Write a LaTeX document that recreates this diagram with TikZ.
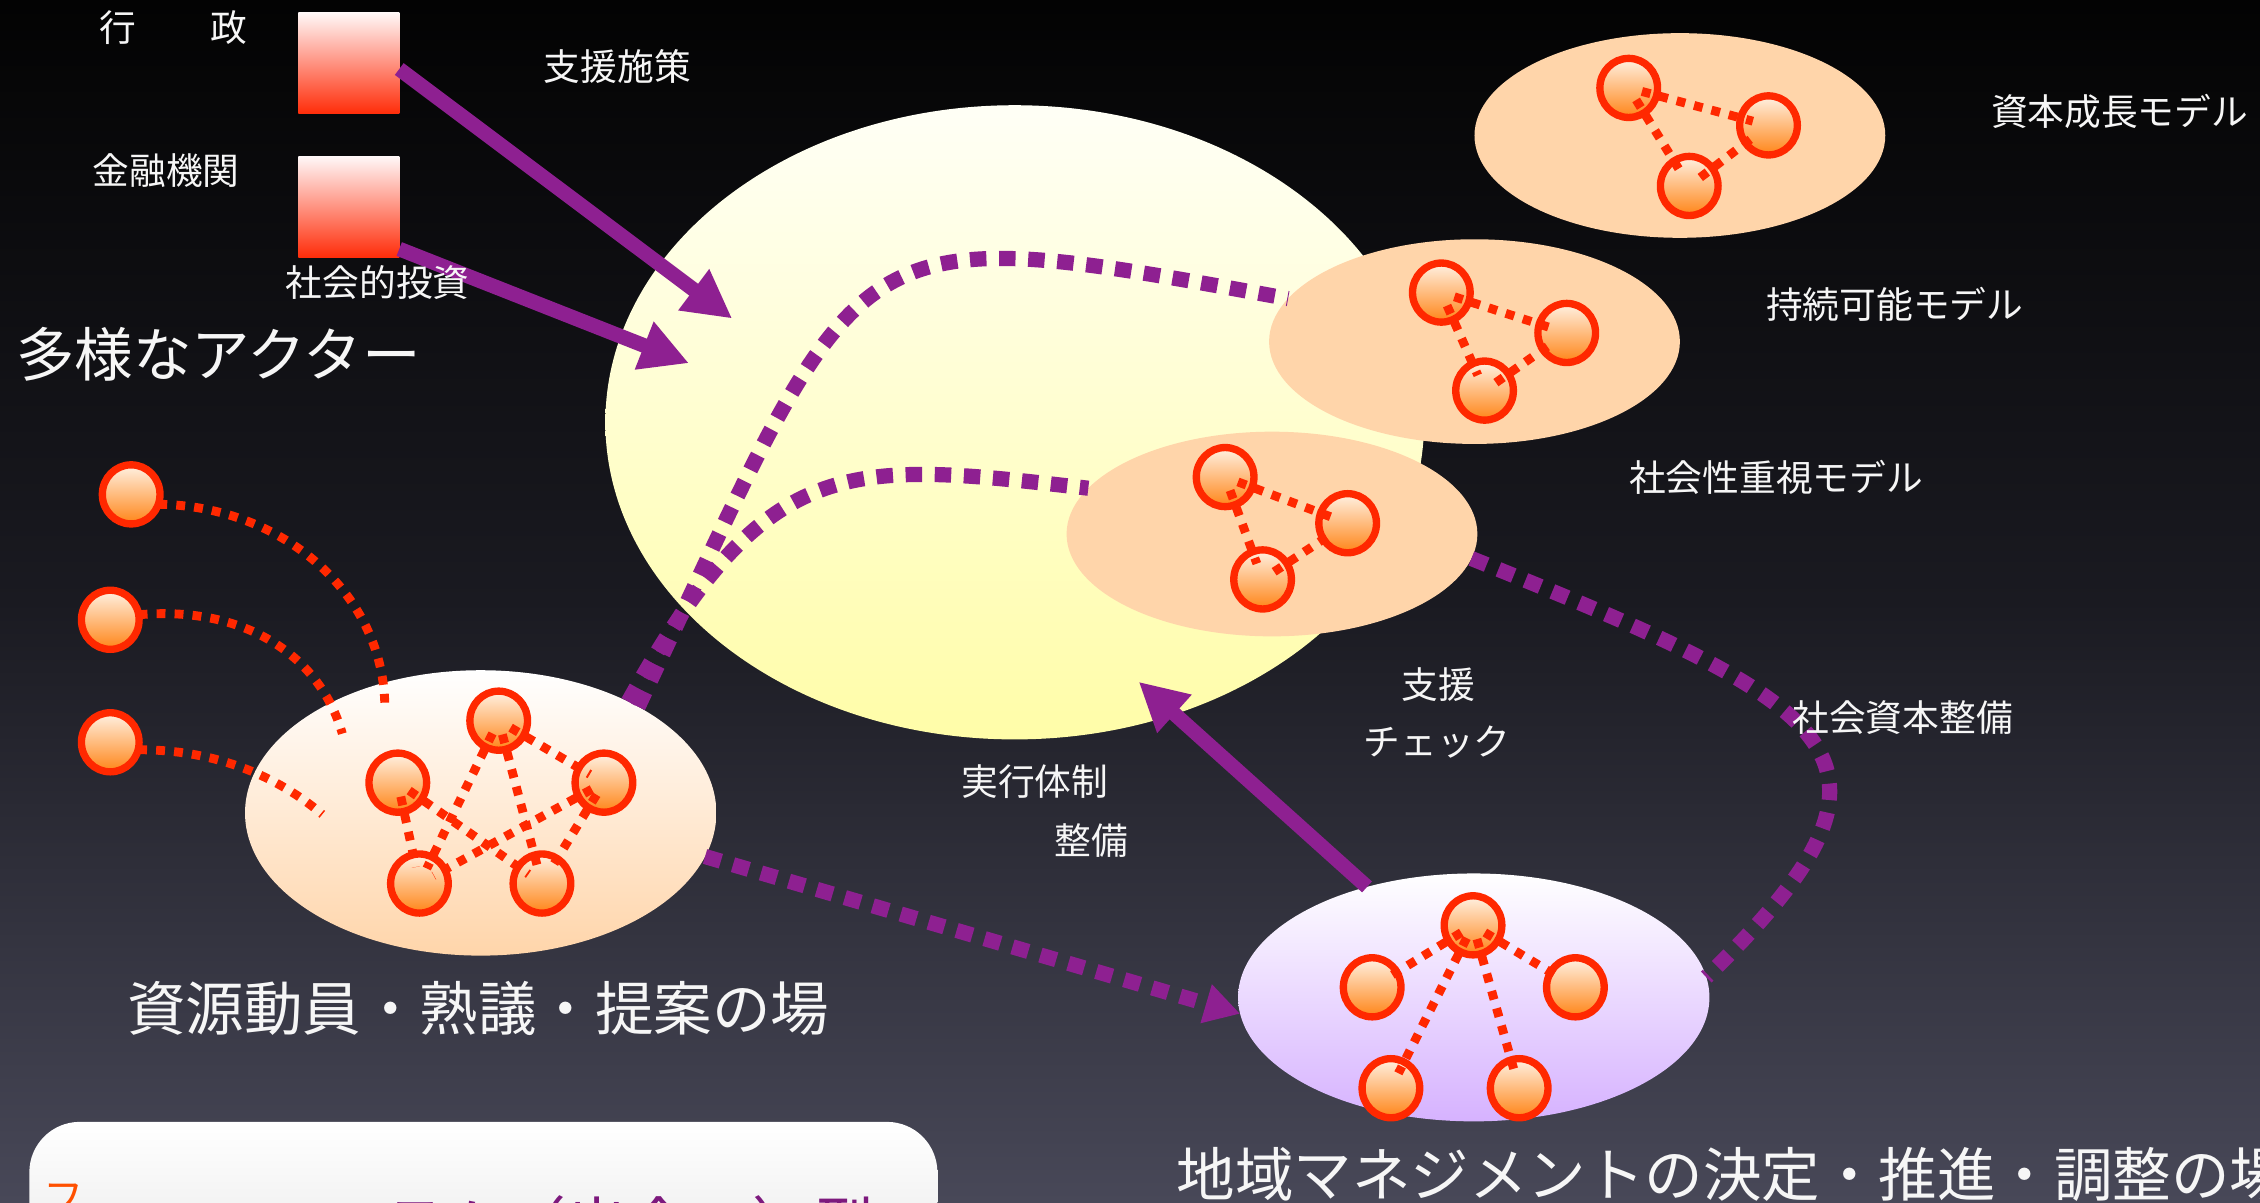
\documentclass[tikz,border=0pt]{standalone}
\usepackage{fontspec}
\setmainfont{Noto Sans CJK JP}
\usetikzlibrary{shapes.geometric,arrows.meta}
\definecolor{bgTop}{RGB}{3,3,3}
\definecolor{bgMid}{RGB}{26,26,33}
\definecolor{bgBot}{RGB}{72,72,88}
\definecolor{pur}{RGB}{142,32,145}
\definecolor{redl}{RGB}{255,40,0}
\definecolor{peach}{RGB}{255,213,170}
\definecolor{ballTop}{RGB}{255,242,228}
\definecolor{ballBot}{RGB}{255,132,22}
\definecolor{yelTop}{RGB}{255,255,246}
\definecolor{yelBot}{RGB}{255,253,168}
\definecolor{lavBot}{RGB}{214,178,255}
\definecolor{boxTxt}{RGB}{125,25,125}
\definecolor{orng}{RGB}{255,80,0}
\definecolor{rectTop}{RGB}{255,248,248}
\definecolor{rectBot}{RGB}{255,45,10}
\definecolor{txt}{RGB}{246,246,246}
\begin{document}
\begin{tikzpicture}[x=0.2mm,y=-0.2mm,
  lbl/.style={text=txt,font=\fontsize{14.5pt}{16pt}\selectfont,inner sep=0pt},
  big/.style={text=txt,font=\fontsize{23.1pt}{26pt}\selectfont,inner sep=0pt},
  ball/.style={ellipse,draw=redl,line width=2.9pt,minimum width=8.0mm,minimum height=8.2mm,inner sep=0pt,outer sep=0pt,top color=ballTop,bottom color=ballBot},
  model/.style={ellipse,fill=peach,minimum width=57mm,minimum height=28.4mm,inner sep=0pt,outer sep=0pt},
  cluster/.style={ellipse,inner sep=0pt,outer sep=0pt},
  redsq/.style={rectangle,minimum width=14mm,minimum height=14mm,inner sep=0pt,outer sep=0pt,top color=rectTop,bottom color=rectBot},
  rdots/.style={draw=redl,line width=3.5pt,dash pattern=on 3.5pt off 3.6pt},
  inlink/.style={rdots,shorten <=-6pt,shorten >=-5pt},
  pdots/.style={draw=pur,line width=6pt,dash pattern=on 6.5pt off 5pt},
  parrow/.style={draw=pur,line width=5.8pt,-{Triangle[length=19pt,width=19pt]}}
]
\shade[top color=bgTop,bottom color=bgBot,middle color=bgMid] (0,0) rectangle (1568,834);
\useasboundingbox (0,0) rectangle (1568,834);

% actors
\node[redsq] (R1) at (242,43.6) {};
\node[redsq] (R2) at (242,143.4) {};

% big yellow ellipse
\node[cluster,minimum width=113.6mm,minimum height=88mm,top color=yelTop,bottom color=yelBot] (Y) at (704,293) {};

% model ellipses
\node[model] (M1) at (1165.5,94) {};
\node[model] (M2) at (1023,237) {};
\node[model] (M3) at (882.5,370.5) {};

\node[ball] (m1a) at (1130,61) {};
\node[ball] (m1b) at (1227,87) {};
\node[ball] (m1c) at (1172,129) {};
\node[ball] (m2a) at (1000,203) {};
\node[ball] (m2b) at (1087,231) {};
\node[ball] (m2c) at (1030,271) {};
\node[ball] (m3a) at (850,331) {};
\node[ball] (m3b) at (935,363) {};
\node[ball] (m3c) at (876,402) {};
\foreach \p in {m1,m2,m3}{
  \draw[inlink] (\p a) -- (\p b);
  \draw[inlink] (\p a) -- (\p c);
  \draw[inlink] (\p c) -- (\p b);
}

% place of resource mobilisation
\node[cluster,minimum width=65.4mm,minimum height=39.6mm,top color=white,bottom color=peach] (A) at (333.5,564) {};
% place of regional management
\node[cluster,minimum width=65.4mm,minimum height=34.4mm,top color=white,bottom color=lavBot] (B) at (1022.5,692) {};

\node[ball] (aT) at (346,500) {};
\node[ball] (aL) at (276,543) {};
\node[ball] (aR) at (419,543) {};
\node[ball] (aBL) at (291,613) {};
\node[ball] (aBR) at (376,613) {};
\draw[inlink] (aT) -- (aR);
\draw[inlink] (aT) -- (aBL);
\draw[inlink] (aT) -- (aBR);
\draw[inlink] (aL) -- (aBL);
\draw[inlink] (aL) -- (aBR);
\draw[inlink] (aR) -- (aBL);
\draw[inlink] (aR) -- (aBR);

\node[ball] (bT) at (1022,642) {};
\node[ball] (bL) at (952,685) {};
\node[ball] (bR) at (1093,685) {};
\node[ball] (bBL) at (965,755) {};
\node[ball] (bBR) at (1054,755) {};
\draw[inlink] (bT) -- (bL);
\draw[inlink] (bT) -- (bR);
\draw[inlink] (bT) -- (bBL);
\draw[inlink] (bT) -- (bBR);

% purple dotted links
\draw[pdots] (A.34) .. controls (602,153) and (580,150) .. (M2.167);
\draw[pdots] (A.37) .. controls (532.6,312.7) and (587,319.4) .. (M3.166);
\draw[pdots] (M3.-7) .. controls (1280,491.6) and (1340.4,526.2) .. (B.5);
\draw[pdots,-{Triangle[length=14pt,width=15pt]}] (A.-11) -- (B.184);

% solid arrows
\coordinate (t1) at (508,221);
\coordinate (t2) at (478,252);
\coordinate (t3) at (790,473);
\draw[parrow] (R1.-7) -- (t1);
\draw[parrow] (R2.-40) -- (t2);
\draw[parrow] (B.134) -- (t3);

% single actors on the left
\node[ball] (L1) at (91,343) {};
\node[ball] (L2) at (76.5,430) {};
\node[ball] (L3) at (76.5,515) {};
\coordinate (e1) at (267,491);
\coordinate (e2) at (237.5,509);
\coordinate (e3) at (223.6,565);
\draw[rdots] (L1.-20) .. controls (198,351) and (267,414) .. (e1);
\draw[rdots] (L2.10) .. controls (170,420) and (222,455) .. (e2);
\draw[rdots] (L3.-15) .. controls (150,520) and (193,539) .. (e3);

% labels
\node[lbl,anchor=west] (gyosei) at (69,19) {行　　政};
\node[lbl,anchor=west] (kinyu) at (64,118) {金融機関};
\node[lbl,anchor=west] (shisaku) at (377,46) {支援施策};
\node[lbl,anchor=west] (toshi) at (198,196) {社会的投資};
\node[big,anchor=west] (actor) at (11,246) {多様なアクター};
\node[lbl,anchor=west] (lm1) at (1381,77) {資本成長モデル};
\node[lbl,anchor=west] (lm2) at (1225,211) {持続可能モデル};
\node[lbl,anchor=west] (lm3) at (1130,331) {社会性重視モデル};
\node[lbl] (s1) at (998,475) {支援};
\node[lbl] (s2) at (997,515) {チェック};
\node[lbl] (j1) at (718,542) {実行体制};
\node[lbl] (j2) at (757,583) {整備};
\node[lbl] (sk) at (1320,498) {社会資本整備};
\node[big,anchor=west] (lA) at (88,700) {資源動員・熟議・提案の場};
\node[big,anchor=west] (lB) at (816,815) {地域マネジメントの決定・推進・調整の場};

% bottom box (cut off)
\node[rectangle,rounded corners=7mm,minimum width=126mm,minimum height=30mm,inner sep=0pt,anchor=north west,top color=white,bottom color=black!12] (box) at (20,778) {};
\node[anchor=base west,text=orng,font=\fontsize{16pt}{18pt}\selectfont,inner sep=0pt] (bx1) at (30,841) {フ};
\node[anchor=base west,text=boxTxt,font=\fontsize{24.4pt}{26pt}\selectfont,inner sep=0pt] (bx2) at (179.7,866) {ォーラム（出会い）型};
\end{tikzpicture}
\end{document}
